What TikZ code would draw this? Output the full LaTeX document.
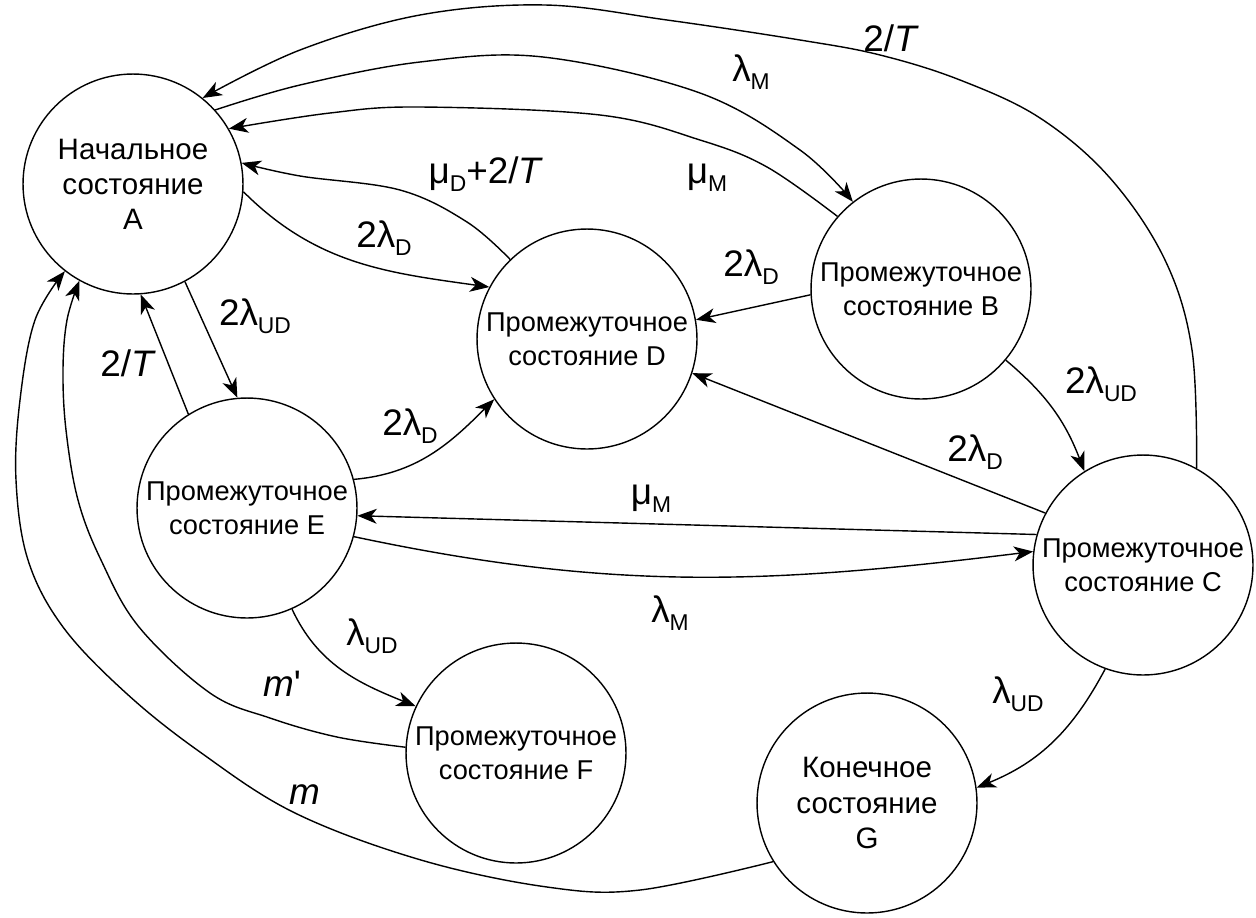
\documentclass[tikz,border=0pt]{standalone}
\usepackage{fontspec}
\setmainfont{Liberation Sans}
\usetikzlibrary{arrows.meta}
\newcommand\lsub[1]{\raisebox{-4.5pt}{\fontsize{13}{13}\selectfont #1}}
\begin{document}
\begin{tikzpicture}[x=0.02cm, y=0.02cm,
  state/.style={draw, circle, line width=0.8pt, minimum size=4.4cm, inner sep=0pt, align=center, font=\fontsize{15.5}{19.5}\selectfont},
  bigstate/.style={state, font=\fontsize{16.8}{20}\selectfont},
  lbl/.style={inner sep=0pt, font=\fontsize{21}{21}\selectfont},
  edge/.style={line width=0.8pt, -{Stealth[length=11pt, width=8.5pt, inset=3.2pt]}},
]
\useasboundingbox (0,0) rectangle (1256,-917);

\node[bigstate] (A) at (133,-184) {Начальное\\состояние\\A};
\node[state] (B) at (921,-289) {Промежуточное\\состояние B};
\node[state] (C) at (1143,-565) {Промежуточное\\состояние C};
\node[state] (D) at (587,-339) {Промежуточное\\состояние D};
\node[state] (E) at (247,-508) {Промежуточное\\состояние E};
\node[state] (F) at (516,-753) {Промежуточное\\состояние F};
\node[bigstate] (G) at (867,-803) {Конечное\\состояние\\G};

% edges
\draw[edge] plot[smooth, tension=0.6] coordinates {(C.61) (1192,-350) (1165,-260) (1110,-178) (1040,-118) (960,-80) (880,-55) (800,-40) (667,-20) (545,-5) (420,-15) (300,-50) (A.51)};
\draw[edge] plot[smooth, tension=0.6] coordinates {(A.42) (300,-85) (420,-62) (543,-57) (700,-93) (800,-150) (B.128)};
\draw[edge] plot[smooth, tension=0.6] coordinates {(B.139) (767,-167) (700,-140) (600,-115) (420,-107) (330,-113) (A.30)};
\draw[edge] plot[smooth, tension=0.6] coordinates {(D.134) (467,-222) (400,-190) (300,-176) (A.11)};
\draw[edge] (A.-4) to[out=-45, in=172] (D.152);
\draw[edge] (B.183) -- (D.10);
\draw[edge] (B.-40) to[out=-40, in=111] (C.122);
\draw[edge] (C.152) -- (D.-18);
\draw[edge] (C.164) -- (E.-4);
\draw[edge] (E.-15) to[out=-12, in=187] (C.173);
\draw[edge] (E.15) to[out=5, in=225] (D.213);
\draw[edge] (A.-62) -- (E.95);
\draw[edge] (E.122) -- (A.-86);
\draw[edge] (E.-66) to[out=-65, in=158] (F.155);
\draw[edge] (C.-110) to[out=-118, in=22] (G.8);
\draw[edge] plot[smooth, tension=0.6] coordinates {(F.177) (337,-737) (270,-718) (210,-693) (139,-627) (101,-560) (78,-500) (66,-430) (63,-370) (67,-320) (A.241)};
\draw[edge] plot[smooth, tension=0.6] coordinates {(G.212) (640,-890) (547,-887) (421,-860) (295,-813) (200,-752) (126,-693) (63,-627) (28,-560) (16,-480) (20,-400) (35,-320) (A.232)};

% labels
\node[lbl] (l1) at (891,-38) {2/\textit{T}};
\node[lbl] (l2) at (751,-72) {λ\lsub{M}};
\node[lbl] (l3) at (707,-178) {μ\lsub{M}};
\node[lbl] (l4) at (486,-174) {μ\lsub{D}+2/\textit{T}};
\node[lbl] (l5) at (384,-238) {2λ\lsub{D}};
\node[lbl] (l6) at (751,-267) {2λ\lsub{D}};
\node[lbl] (l7) at (1101,-384) {2λ\lsub{UD}};
\node[lbl] (l8) at (975,-452) {2λ\lsub{D}};
\node[lbl] (l9) at (651,-499) {μ\lsub{M}};
\node[lbl] (l10) at (670,-613) {λ\lsub{M}};
\node[lbl] (l11) at (410,-426) {2λ\lsub{D}};
\node[lbl] (l12) at (255,-316) {2λ\lsub{UD}};
\node[lbl] (l13) at (128,-363) {2/\textit{T}};
\node[lbl] (l14) at (372,-636) {λ\lsub{UD}};
\node[lbl] (l15) at (282,-684) {\textit{m}\textquotesingle};
\node[lbl] (l16) at (305,-795) {\textit{m}};
\node[lbl] (l17) at (1018,-694) {λ\lsub{UD}};
\end{tikzpicture}
\end{document}
